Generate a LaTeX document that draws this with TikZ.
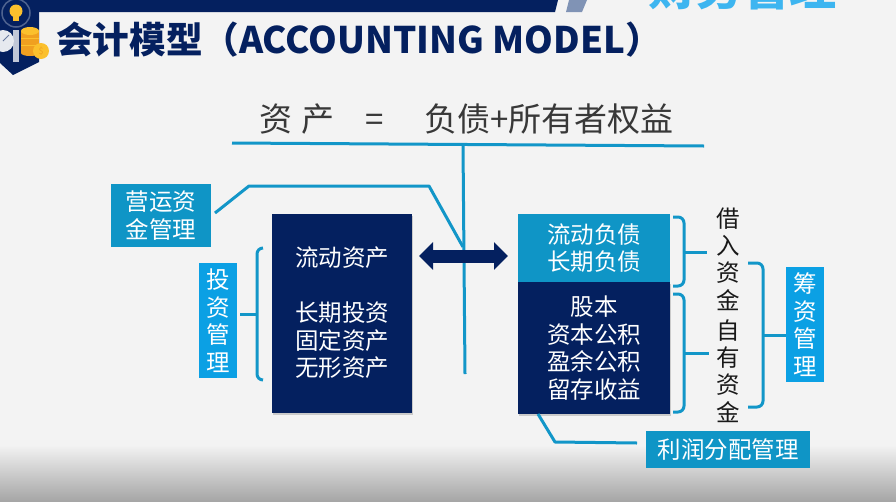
\documentclass[tikz,border=0pt]{standalone}
\usepackage{fontspec}
\setmainfont{Noto Sans CJK SC}
\usetikzlibrary{arrows.meta,shadows,calc}
\definecolor{navy}{HTML}{04205F}
\definecolor{tealbox}{HTML}{0F95C6}
\definecolor{brightbox}{HTML}{0BA0E4}
\definecolor{linkblue}{HTML}{1296C8}
\definecolor{pagebg}{HTML}{F3F3F3}
\definecolor{slant}{HTML}{8093B5}
\definecolor{brandblue}{HTML}{3DB5F0}
\definecolor{coindark}{HTML}{F0A020}
\definecolor{coinlight}{HTML}{FBC02D}
\tikzset{
  x=1pt,y=-1pt,
  box/.style={inner sep=0pt,outer sep=0pt,align=center,text=white,font=\fontsize{23.5}{27.5}\selectfont,anchor=center},
  navybox/.style={box,fill=navy,drop shadow={shadow xshift=1pt,shadow yshift=-2pt,opacity=.35}},
  tealnode/.style={box,fill=tealbox},
  brightnode/.style={box,fill=brightbox},
  link/.style={draw=linkblue,line width=3pt,line join=round},
  brace/.style={link,rounded corners=6pt},
}
\begin{document}
\begin{tikzpicture}
\useasboundingbox (0,0) rectangle (896,501);
\fill[pagebg] (0,0) rectangle (896,501);
\shade[top color=pagebg,bottom color=black!35] (0,445) rectangle (896,501);
% header band
\fill[navy] (0,0) -- (558,0) -- (555,12) -- (0,12) -- cycle;
\fill[slant] (569,0) -- (587,0) -- (582,12) -- (566,12) -- cycle;
\fill[navy] (0,0) -- (39,0) -- (39,62) -- (13,75) -- (0,63) -- cycle;
% icon
\draw[navy!70!white,line width=1.5pt] (16,13) circle (14);
\fill[coinlight] (16,11) circle (6.5);
\fill[coinlight] (13,15) rectangle (19,21);
\fill[navy!25!white] (13,30) rectangle (19,62);
\fill[white!90!navy] (3,41) circle (11);
\draw[navy!60,line width=1pt] (3,41) -- (9,35);
\fill[coindark] (21,31) rectangle (39,53);
\draw[coinlight,line width=1pt] (21,38) -- (39,38) (21,45) -- (39,45);
\fill[coinlight] (30,31) ellipse (9 and 4);
\fill[coindark] (30,53) ellipse (9 and 3);
\fill[coinlight] (41,51) circle (8);
\node[font=\fontsize{9}{9}\selectfont,text=coindark,inner sep=0pt] (coinmark) at (41,51) {\$};
% cut-off header text
\begin{scope}
\clip (600,0) rectangle (896,40);
\node[inner sep=0pt,anchor=center,text=brandblue,font=\fontsize{47}{47}\selectfont\bfseries] (brand) at (742,-12.5) {财务管理};
\end{scope}
% title
\node[inner sep=0pt,anchor=west,text=navy,font=\fontsize{36.6}{37}\selectfont\bfseries] (title) at (56,40) {会计模型（ACCOUNTING MODEL）};
% equation
\node[inner sep=0pt,anchor=west,text=black!78,font=\fontsize{33}{33}\selectfont] (equation) at (259,119) {资\hspace{9pt}产\hspace{31pt}=\hspace{41pt}负债+所有者权益};
% balance lines
\coordinate (ruleL) at (232,143);
\coordinate (ruleR) at (704,146);
\coordinate (ruleM) at (463,145);
\coordinate (ruleEnd) at (465,374);
\coordinate (w1) at (215,213);
\coordinate (w2) at (249,186);
\coordinate (w3) at (429,186);
\coordinate (w4) at (463,247);
\coordinate (aL) at (419,256);
\coordinate (aR) at (508,256);
\draw[link] (ruleL) -- (ruleR);
\draw[link] (ruleM) -- (ruleEnd);
\draw[link] (w1) -- (w2) -- (w3) -- (w4);
\draw[navy,line width=13pt,{Triangle[length=14pt,width=27pt]}-{Triangle[length=14pt,width=27pt]}] (aL) -- (aR);
% boxes
\node[tealnode,minimum width=100pt,minimum height=63pt] (working) at (161,215.5) {营运资\\金管理};
\node[brightnode,minimum width=38pt,minimum height=115pt] (invest) at (218,320.5) {投\\资\\管\\理};
\node[navybox,minimum width=140pt,minimum height=199pt] (assets) at (342,313) {流动资产\\[27.5pt]长期投资\\固定资产\\无形资产};
\node[tealnode,minimum width=152pt,minimum height=68pt] (debt) at (594,248) {流动负债\\长期负债};
\node[navybox,minimum width=152pt,minimum height=132pt] (equity) at (594,348) {股本\\资本公积\\盈余公积\\留存收益};
\node[brightnode,minimum width=38pt,minimum height=115pt] (finance) at (805,324.5) {筹\\资\\管\\理};
\node[tealnode,minimum width=164pt,minimum height=37pt] (profit) at (728,449.5) {利润分配管理};
% vertical captions
\node[inner sep=0pt,align=center,text=black!90,font=\fontsize{23.5}{27.3}\selectfont] (borrowed) at (728,259) {借\\入\\资\\金};
\node[inner sep=0pt,align=center,text=black!90,font=\fontsize{23.5}{27.3}\selectfont] (own) at (728,371) {自\\有\\资\\金};
% brackets
\draw[brace] (263,248) -- (257,248) -- (257,380) -- (263,380);
\draw[link] (invest.east |- 0,314) ++(3,0) -- (257,314);
\draw[brace] (673,217) -- (684,217) -- (684,286) -- (673,286);
\draw[link] (684,252) -- (707,252);
\draw[brace] (673,294) -- (684,294) -- (684,412) -- (673,412);
\draw[link] (684,353) -- (709,353);
\draw[brace] (748,263) -- (763,263) -- (763,407) -- (748,407);
\draw[link] (763,335) -- (finance.west |- 0,335);
% profit link
\coordinate (p1) at (538,414);
\coordinate (p2) at (555,442);
\draw[link] (p1) -- (p2) -- (637,443);
\end{tikzpicture}
\end{document}
